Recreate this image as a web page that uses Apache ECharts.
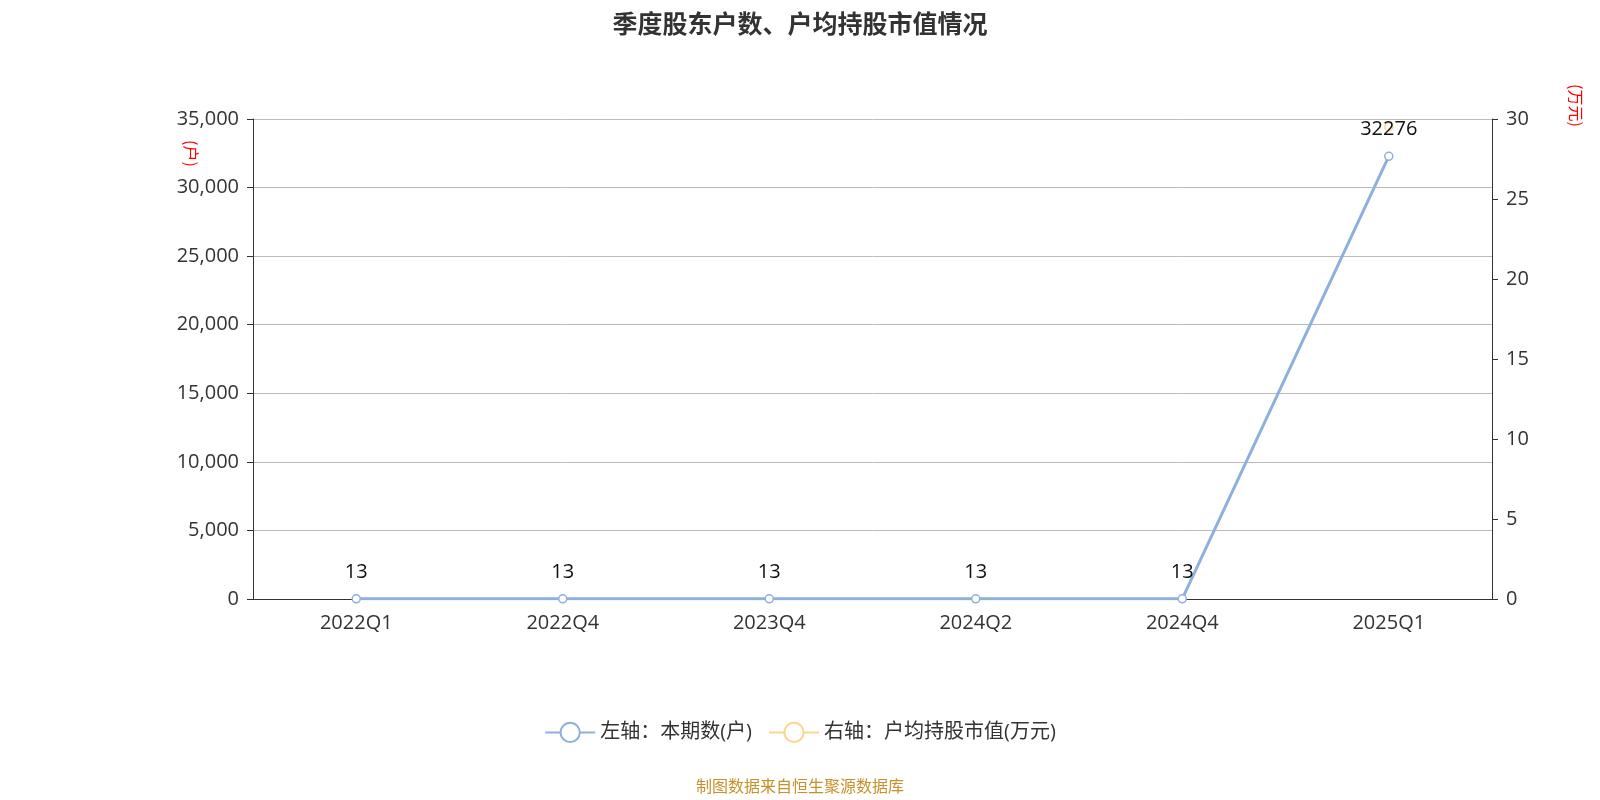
<!DOCTYPE html>
<html><head><meta charset="utf-8">
<script src="https://cdn.jsdelivr.net/npm/echarts@6/dist/echarts.min.js"></script>
<style>html,body{margin:0;padding:0;background:#fff}#c{width:1600px;height:800px}</style>
</head><body><div id="c"></div>
<script>
var categories = ['2022Q1', '2022Q4', '2023Q4', '2024Q2', '2024Q4', '2025Q1'];
var holders = [13, 13, 13, 13, 13, 32276];
var avgValue = [null, null, null, null, null, 29.5];
var leftTicks = [0, 35000, 5000];
var rightTicks = [0, 30, 5];

var chart = echarts.init(document.getElementById('c'));
var font = '"Open Sans", "Noto Sans CJK SC", sans-serif';
chart.setOption({
    textStyle: { fontFamily: font },
    title: { text: '季度股东户数、户均持股市值情况', left: 'center', top: 6,
        textStyle: { fontSize: 25, fontWeight: 'bold', color: '#333', fontFamily: '"Noto Sans CJK SC", sans-serif' } },
    grid: { left: 253, right: 108, top: 119, bottom: 201 },
    legend: { bottom: 52, itemWidth: 50, itemHeight: 24, itemGap: 16,
        textStyle: { fontSize: 20, color: '#333' },
        data: ['左轴：本期数(户)', '右轴：户均持股市值(万元)'] },
    graphic: [
        { type: 'text', left: 'center', top: 778,
          style: { text: '制图数据来自恒生聚源数据库', fill: '#c8902a', fontSize: 16, fontFamily: '"Noto Sans CJK SC", sans-serif' } },
        { type: 'text', x: 199, y: 140, rotation: -Math.PI / 2,
          style: { text: '(户)', fill: 'red', fontSize: 16, fontFamily: '"Noto Sans CJK SC", sans-serif' } },
        { type: 'text', x: 1584, y: 84, rotation: -Math.PI / 2,
          style: { text: '(万元)', fill: 'red', fontSize: 16, fontFamily: '"Noto Sans CJK SC", sans-serif' } }
    ],
    xAxis: { type: 'category', data: categories, boundaryGap: true,
        axisLine: { lineStyle: { color: '#333' } },
        axisTick: { length: 6, lineStyle: { color: '#333' } },
        axisLabel: { fontSize: 20, color: '#333', margin: 14 } },
    yAxis: [{ type: 'value', min: leftTicks[0], max: leftTicks[1], interval: leftTicks[2],
        axisLine: { show: true, lineStyle: { color: '#333' } },
        axisTick: { show: true, length: 6 },
        axisLabel: { fontSize: 20, color: '#333', margin: 14 },
        splitLine: { lineStyle: { color: '#bbb' } } },
    { type: 'value', min: rightTicks[0], max: rightTicks[1], interval: rightTicks[2],
        axisLine: { show: true, lineStyle: { color: '#333' } },
        axisTick: { show: true, length: 6 },
        axisLabel: { fontSize: 20, color: '#333', margin: 14 },
        splitLine: { show: false } }],
    series: [{ name: '左轴：本期数(户)', type: 'line', data: holders, yAxisIndex: 0,
        symbol: 'circle', symbolSize: 8, itemStyle: { color: '#fff', borderColor: '#8eb0dd', borderWidth: 1.5 },
        lineStyle: { color: '#8eb0dd', width: 3 },
        label: { show: true, position: 'top', fontSize: 20, color: '#111', distance: 12 } },
    { name: '右轴：户均持股市值(万元)', type: 'line', data: avgValue, yAxisIndex: 1,
        symbol: 'circle', symbolSize: 8, itemStyle: { color: '#fff', borderColor: '#fcd68f', borderWidth: 1.5 },
        lineStyle: { color: '#fcd68f', width: 3 }, z: 1 }]
});
</script></body></html>
